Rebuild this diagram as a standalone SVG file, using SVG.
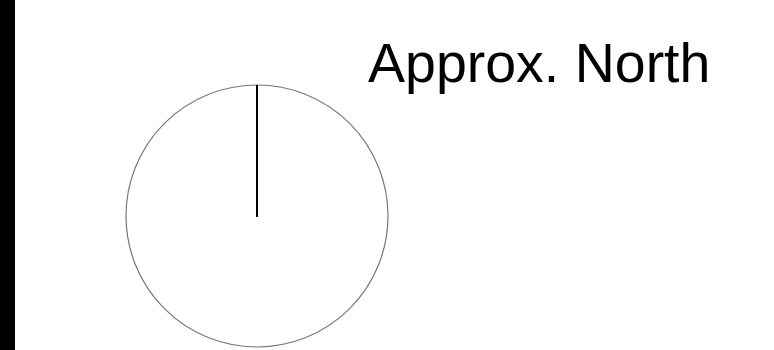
<svg xmlns="http://www.w3.org/2000/svg" width="774" height="350" viewBox="0 0 774 350">
<style>
.lbl{font-family:"Liberation Sans",Arial,sans-serif;font-size:55.5px;fill:#000}
</style>
<rect x="0" y="0" width="774" height="350" fill="#fff"/>
<rect x="0" y="0" width="15" height="350" fill="#000"/>
<g id="compass">
<circle cx="257" cy="216" r="131" fill="none" stroke="#777" stroke-width="1.2"/>
<line x1="257" y1="85" x2="257" y2="217" stroke="#000" stroke-width="2"/>
</g>
<g id="label">
<text class="lbl" x="368" y="82">Approx. North</text>
</g>
</svg>
